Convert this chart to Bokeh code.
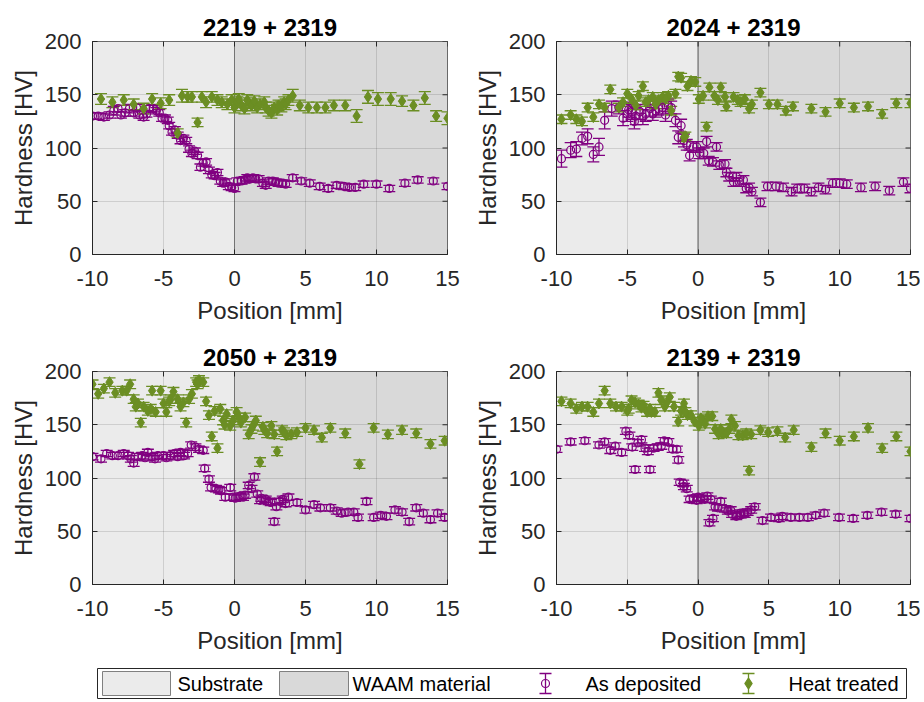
import math
from bokeh.plotting import figure
from bokeh.models import ColumnDataSource, Range1d, FixedTicker, Whisker, TeeHead
from bokeh.layouts import column, row
from bokeh.embed import file_html
from bokeh.resources import INLINE
from bokeh.core.properties import value

# ---------------- data ----------------
titles = ["2219 + 2319", "2024 + 2319", "2050 + 2319", "2139 + 2319"]
x_ticks = [-10, -5, 0, 5, 10, 15]
y_ticks = [0, 50, 100, 150, 200]
substrate_span = [-10, 0]
waam_span = [0, 15]

# Panel 1: 2219 + 2319
p1_dep_x = [-10.0, -9.6, -9.2, -8.8, -8.5, -8.2, -8.0, -7.7, -7.4, -7.1,
            -6.9, -6.7, -6.4, -6.2, -6.0, -5.7, -5.5, -5.3, -5.1, -4.9,
            -4.7, -4.6, -4.4, -4.2, -4.0, -3.8, -3.6, -3.4, -3.2, -3.0,
            -2.8, -2.6, -2.4, -2.2, -2.0, -1.8, -1.6, -1.4, -1.2, -1.0,
            -0.8, -0.6, -0.4, -0.2, 0.0, 0.2, 0.5, 0.7, 0.9, 1.1,
            1.3, 1.5, 1.7, 2.0, 2.2, 2.4, 2.7, 2.9, 3.1, 3.4,
            3.6, 4.1, 4.7, 5.3, 6.0, 6.6, 7.2, 7.7, 8.1, 8.5,
            9.1, 10.0, 10.9, 12.0, 12.9, 14.0, 15.0]
p1_dep_hv = [130, 130, 129, 131, 135, 137, 131, 133, 137, 133,
             138, 131, 129, 132, 137, 137, 135, 133, 128, 128,
             126, 121, 115, 117, 112, 107, 109, 107, 99, 95,
             97, 93, 82, 86, 87, 79, 75, 74, 77, 69,
             67, 68, 64, 63, 62, 69, 69, 70, 72, 71,
             72, 71, 71, 67, 65, 69, 69, 68, 67, 67,
             66, 72, 69, 67, 64, 62, 65, 64, 63, 63,
             66, 66, 62, 67, 70, 69, 64]
p1_dep_err = [3, 3, 3, 3, 4, 3, 3, 3, 4, 3,
              3, 3, 3, 3, 3, 3, 3, 3, 3, 3,
              3, 3, 3, 3, 3, 3, 3, 3, 3, 3,
              3, 3, 3, 3, 3, 3, 3, 3, 3, 3,
              3, 3, 3, 3, 3, 3, 3, 3, 3, 3,
              3, 3, 3, 3, 3, 3, 3, 3, 3, 3,
              3, 3, 3, 3, 3, 3, 3, 3, 3, 3,
              3, 3, 3, 3, 3, 3, 3]
p1_ht_x = [-9.4, -8.6, -7.8, -7.1, -6.4, -5.8, -5.2, -4.6, -4.0, -3.7,
           -3.3, -3.0, -2.6, -2.3, -2.0, -1.6, -1.2, -0.9, -0.5, -0.2,
           0.0, 0.2, 0.3, 0.5, 0.7, 0.9, 1.0, 1.2, 1.4, 1.6,
           1.8, 2.1, 2.2, 2.4, 2.6, 2.8, 3.0, 3.1, 3.3, 3.5,
           3.6, 3.8, 4.1, 4.6, 5.2, 5.8, 6.4, 7.0, 7.8, 8.6,
           9.4, 10.1, 11.0, 11.8, 12.6, 13.4, 14.2, 15.0]
p1_ht_hv = [146, 143, 145, 141, 137, 146, 142, 145, 114, 149,
            148, 148, 124, 148, 143, 148, 145, 143, 141, 145,
            138, 143, 146, 140, 137, 145, 142, 140, 144, 138,
            141, 143, 138, 135, 133, 138, 136, 140, 139, 143,
            141, 145, 149, 140, 138, 138, 138, 140, 140, 130,
            148, 146, 146, 144, 140, 147, 130, 128]
p1_ht_err = [5, 5, 5, 5, 5, 5, 5, 5, 4, 6,
             5, 5, 4, 5, 5, 5, 5, 5, 5, 5,
             5, 5, 5, 5, 5, 5, 5, 5, 5, 5,
             5, 5, 5, 5, 5, 5, 5, 5, 5, 5,
             5, 5, 6, 5, 5, 5, 5, 5, 5, 6,
             6, 6, 6, 5, 5, 6, 5, 6]

# Panel 2: 2024 + 2319
p2_dep_x = [-9.65, -9.0, -8.6, -8.2, -7.8, -7.4, -7.0, -6.6, -6.1, -5.6,
            -5.0, -4.7, -4.4, -4.1, -3.7, -3.4, -3.2, -2.8, -2.5, -2.1,
            -1.6, -1.4, -1.2, -1.0, -0.6, -0.35, -0.1, 0.1, 0.4, 0.6,
            0.75, 1.05, 1.3, 1.5, 1.9, 2.0, 2.2, 2.5, 2.7, 2.9,
            3.2, 3.4, 3.6, 3.8, 4.4, 4.9, 5.5, 6.0, 6.6, 7.0,
            7.5, 8.0, 8.5, 9.0, 9.5, 10.0, 10.5, 11.5, 12.5, 13.5,
            14.5, 15.0, -5.3, -4.9, -4.5, -3.9, -3.0, -2.3, -1.9, -0.8]
p2_dep_hv = [90, 98, 99, 109, 111, 94, 101, 126, 137, 138,
             132, 134, 130, 134, 132, 137, 132, 137, 138, 140,
             126, 110, 121, 107, 93, 101, 101, 95, 95, 106,
             88, 87, 101, 84, 85, 77, 73, 68, 73, 68,
             70, 62, 63, 59, 49, 64, 64, 63, 59, 62,
             62, 59, 63, 61, 67, 67, 66, 63, 64, 60,
             68, 62, 128, 136, 125, 129, 135, 131, 138, 103]
p2_dep_err = [8, 7, 7, 6, 7, 7, 8, 8, 7, 6,
              7, 7, 8, 7, 7, 7, 6, 6, 6, 6,
              6, 6, 6, 6, 5, 5, 5, 5, 5, 5,
              4, 4, 4, 4, 4, 4, 4, 4, 4, 4,
              4, 4, 4, 4, 4, 4, 4, 4, 4, 4,
              4, 4, 4, 4, 4, 4, 4, 4, 4, 4,
              4, 4, 7, 7, 7, 7, 6, 6, 6, 5]
p2_ht_x = [-9.65, -9.0, -8.6, -8.2, -7.8, -7.4, -7.0, -6.6, -6.2, -5.6,
           -5.0, -4.7, -4.2, -3.9, -3.5, -3.2, -2.8, -2.5, -2.1, -1.9,
           -1.6, -1.4, -1.2, -1.0, -0.75, -0.5, -0.2, 0.05, 0.35, 0.6,
           0.8, 1.15, 1.6, 1.9, 2.0, 2.5, 2.8, 3.3, 3.6, 3.8,
           4.4, 5.0, 5.6, 6.2, 6.7, 8.0, 9.0, 10.0, 11.0, 12.0,
           13.0, 14.0, 15.0, -5.3, -4.4, -3.7, -3.0, -2.3, -0.9, 1.4,
           3.0]
p2_ht_hv = [127, 131, 127, 125, 138, 129, 141, 138, 155, 138,
            151, 146, 149, 158, 145, 148, 145, 148, 149, 135,
            151, 167, 166, 110, 158, 163, 162, 146, 149, 120,
            157, 149, 157, 148, 139, 148, 145, 146, 137, 141,
            152, 141, 141, 135, 139, 137, 134, 142, 138, 139,
            132, 142, 142, 143, 140, 143, 141, 146, 111, 145,
            143]
p2_ht_err = [4, 4, 4, 4, 4, 4, 4, 4, 4, 4,
             4, 4, 4, 4, 4, 4, 4, 4, 4, 4,
             4, 4, 4, 4, 4, 4, 4, 4, 4, 4,
             4, 4, 4, 4, 4, 4, 4, 4, 4, 4,
             4, 4, 4, 4, 4, 4, 4, 4, 4, 4,
             4, 4, 4, 4, 4, 4, 4, 4, 4, 4,
             4]

# Panel 3: 2050 + 2319
p3_dep_x = [-10.0, -9.4, -9.0, -8.6, -8.2, -7.8, -7.5, -7.3, -7.1, -6.8,
            -6.5, -6.1, -5.8, -5.4, -5.0, -4.5, -4.25, -4.0, -3.8, -3.55,
            -3.3, -3.05, -2.75, -2.5, -2.2, -2.1, -1.8, -1.65, -1.3, -0.95,
            -0.65, -0.3, 0.05, 0.4, 0.75, 1.0, 1.2, 1.4, 1.6, 1.8,
            2.2, 2.55, 2.8, 2.95, 3.2, 3.6, 3.8, 4.4, 5.0, 5.6,
            6.05, 6.75, 7.2, 7.55, 8.0, 8.4, 8.7, 9.3, 9.8, 10.3,
            10.7, 11.3, 11.8, 12.3, 12.8, 13.3, 13.8, 14.3, 14.8, -6.3,
            -5.6, -4.8, -1.1, -0.1, 0.6, 1.9, 2.4, 3.4]
p3_dep_hv = [120, 118, 123, 121, 121, 123, 121, 118, 114, 120,
             121, 124, 120, 121, 121, 121, 123, 120, 124, 121,
             123, 131, 129, 127, 126, 109, 99, 91, 90, 88,
             82, 91, 81, 83, 84, 93, 90, 101, 85, 79,
             80, 77, 59, 73, 78, 76, 82, 77, 70, 75,
             72, 72, 69, 67, 68, 68, 63, 78, 63, 65,
             64, 70, 68, 59, 72, 67, 61, 67, 63, 119,
             118, 119, 89, 82, 82, 81, 78, 80]
p3_dep_err = [3, 3, 3, 3, 3, 3, 3, 3, 3, 3,
              3, 3, 3, 3, 3, 3, 3, 3, 3, 3,
              3, 3, 3, 3, 3, 3, 3, 3, 3, 3,
              3, 3, 3, 3, 3, 3, 3, 3, 3, 3,
              3, 3, 3, 3, 3, 3, 3, 3, 3, 3,
              3, 3, 3, 3, 3, 3, 3, 3, 3, 3,
              3, 3, 3, 3, 3, 3, 3, 3, 3, 3,
              3, 3, 3, 3, 3, 3, 3, 3]
p3_ht_x = [-10.0, -9.6, -9.2, -8.8, -8.4, -7.9, -7.6, -7.35, -7.1, -6.95,
           -6.6, -6.4, -6.1, -5.8, -5.55, -5.2, -5.0, -4.8, -4.5, -4.3,
           -4.0, -3.8, -3.4, -3.2, -3.0, -2.7, -2.5, -2.2, -2.0, -1.8,
           -1.6, -1.4, -1.2, -1.0, -0.8, -0.55, -0.3, -0.1, 0.15, 0.45,
           0.75, 1.0, 1.3, 1.5, 1.8, 2.1, 2.3, 2.6, 2.8, 3.0,
           3.35, 3.65, 4.0, 4.4, 5.0, 5.6, 6.15, 6.75, 7.8, 8.8,
           9.8, 10.8, 11.8, 12.8, 13.8, 14.8, -6.8, -5.9, -4.6, -3.6,
           -2.6, -0.7, 0.3, 1.2, 2.0, 3.5]
p3_ht_hv = [188, 179, 184, 190, 180, 182, 182, 188, 174, 167,
            152, 167, 163, 182, 162, 182, 170, 162, 174, 181,
            174, 167, 152, 174, 179, 190, 192, 190, 172, 159,
            139, 163, 128, 165, 154, 160, 149, 154, 162, 152,
            157, 141, 149, 154, 115, 145, 142, 149, 141, 125,
            145, 140, 141, 143, 147, 145, 138, 147, 142, 113,
            147, 141, 145, 142, 132, 135, 170, 165, 172, 171,
            188, 150, 157, 146, 148, 143]
p3_ht_err = [4, 4, 4, 4, 4, 4, 4, 4, 4, 4,
             4, 4, 4, 4, 4, 4, 4, 4, 4, 4,
             4, 4, 4, 4, 4, 4, 4, 4, 4, 4,
             4, 4, 4, 4, 4, 4, 4, 4, 4, 4,
             4, 4, 4, 4, 4, 4, 4, 4, 4, 4,
             4, 4, 4, 4, 4, 4, 4, 4, 4, 4,
             4, 4, 4, 4, 4, 4, 4, 4, 4, 4,
             4, 4, 4, 4, 4, 4]

# Panel 4: 2139 + 2319
p4_dep_x = [-10.0, -9.0, -8.0, -7.0, -6.6, -6.2, -5.85, -5.4, -5.1, -4.85,
            -4.65, -4.45, -4.25, -4.0, -3.75, -3.55, -3.4, -3.15, -2.85, -2.6,
            -2.4, -2.1, -1.8, -1.5, -1.4, -1.3, -1.05, -0.8, -0.6, -0.35,
            -0.1, 0.2, 0.45, 0.65, 0.8, 1.05, 1.2, 1.6, 1.9, 2.1,
            2.4, 2.7, 3.0, 3.3, 3.5, 3.75, 4.0, 4.55, 5.15, 5.7,
            5.95, 6.55, 7.15, 7.75, 8.3, 8.9, 9.95, 10.95, 11.95, 12.95,
            13.95, 15.0, -1.0, 0.0, 0.9, 1.4, 2.3, 2.8, 3.2]
p4_dep_hv = [127, 134, 135, 131, 134, 126, 130, 124, 144, 140,
             129, 108, 133, 136, 128, 125, 108, 128, 129, 130,
             135, 134, 127, 127, 117, 96, 95, 90, 80, 81,
             79, 81, 80, 83, 58, 62, 73, 78, 71, 69,
             66, 64, 67, 66, 68, 70, 73, 60, 63, 62,
             64, 63, 63, 63, 65, 67, 63, 62, 65, 68,
             66, 62, 92, 82, 80, 72, 70, 65, 67]
p4_dep_err = [3, 3, 3, 3, 3, 3, 3, 3, 3, 3,
              3, 3, 3, 3, 3, 3, 3, 3, 3, 3,
              3, 3, 3, 3, 3, 3, 3, 3, 3, 3,
              3, 3, 3, 3, 3, 3, 3, 3, 3, 3,
              3, 3, 3, 3, 3, 3, 3, 3, 3, 3,
              3, 3, 3, 3, 3, 3, 3, 3, 3, 3,
              3, 3, 3, 3, 3, 3, 3, 3, 3]
p4_ht_x = [-9.65, -9.0, -8.6, -8.2, -7.8, -7.4, -7.0, -6.6, -6.2, -5.8,
           -5.4, -5.0, -4.7, -4.45, -4.2, -3.85, -3.6, -3.3, -3.05, -2.8,
           -2.6, -2.35, -2.0, -1.7, -1.4, -1.2, -1.0, -0.75, -0.5, -0.25,
           0.05, 0.35, 0.7, 1.0, 1.2, 1.45, 1.75, 2.0, 2.35, 2.6,
           2.85, 3.15, 3.6, 3.75, 4.4, 4.95, 5.6, 6.15, 6.75, 8.0,
           9.0, 10.0, 11.0, 12.0, 13.0, 14.0, 15.0, -4.9, -4.0, -3.4,
           -2.2, -0.9, 0.2, 0.5, 1.6, 2.2, 3.4]
p4_ht_hv = [172, 170, 165, 167, 167, 162, 170, 182, 170, 167,
            167, 163, 173, 171, 169, 168, 162, 162, 162, 180,
            173, 167, 176, 167, 153, 163, 170, 159, 159, 153,
            149, 154, 158, 158, 146, 141, 143, 142, 155, 149,
            140, 140, 107, 141, 145, 143, 144, 138, 145, 129,
            142, 135, 139, 147, 128, 139, 125, 165, 166, 165,
            171, 162, 156, 151, 146, 146, 142]
p4_ht_err = [4, 4, 4, 4, 4, 4, 4, 4, 4, 4,
             4, 4, 4, 4, 4, 4, 4, 4, 4, 4,
             4, 4, 4, 4, 4, 4, 4, 4, 4, 4,
             4, 4, 4, 4, 4, 4, 4, 4, 4, 4,
             4, 4, 4, 4, 4, 4, 4, 4, 4, 4,
             4, 4, 4, 4, 4, 4, 4, 4, 4, 4,
             4, 4, 4, 4, 4, 4, 4]

legend_labels = ["Substrate", "WAAM material", "As deposited", "Heat treated"]

# ---------------- style ----------------
FONT = "Liberation Sans"
PURPLE = "#800080"
GREEN = "#6B8E23"
SUB_COLOR = "#EBEBEB"
WAAM_COLOR = "#D9D9D9"
EDGE = "#808080"
AX = "#262626"
BAR_W = 1.3

panels = [
    (p1_dep_x, p1_dep_hv, p1_dep_err, p1_ht_x, p1_ht_hv, p1_ht_err),
    (p2_dep_x, p2_dep_hv, p2_dep_err, p2_ht_x, p2_ht_hv, p2_ht_err),
    (p3_dep_x, p3_dep_hv, p3_dep_err, p3_ht_x, p3_ht_hv, p3_ht_err),
    (p4_dep_x, p4_dep_hv, p4_dep_err, p4_ht_x, p4_ht_hv, p4_ht_err),
]

# (width, height, left, right, top, bottom)
geoms = [
    (470, 340, 92, 23, 41, 86),
    (450, 340, 84, 10, 41, 86),
    (470, 324, 92, 23, 31, 80),
    (450, 324, 84, 10, 31, 80),
]


def add_errorbars(p, xs, ys, es, color):
    src = ColumnDataSource(dict(x=xs,
                                upper=[y + e for y, e in zip(ys, es)],
                                lower=[y - e for y, e in zip(ys, es)]))
    w = Whisker(source=src, base="x", upper="upper", lower="lower",
                dimension="height", line_color=color, line_width=BAR_W,
                upper_head=TeeHead(size=12, line_color=color, line_width=BAR_W),
                lower_head=TeeHead(size=12, line_color=color, line_width=BAR_W))
    p.add_layout(w)


def make_panel(i):
    dx, dy, de, hx, hy, he = panels[i]
    w, h, bl, br, bt, bb = geoms[i]
    p = figure(width=w, height=h, output_backend="svg", toolbar_location=None,
               x_range=Range1d(x_ticks[0], x_ticks[-1]),
               y_range=Range1d(y_ticks[0], y_ticks[-1]),
               min_border_left=bl, min_border_right=br,
               min_border_top=bt, min_border_bottom=bb,
               title=titles[i])
    p.title.text_font = FONT
    p.title.text_font_size = "24px"
    p.title.text_font_style = "bold"
    p.title.text_color = "black"
    p.title.align = "center"
    p.title.standoff = 1

    # background regions
    reg = p.quad(left=[substrate_span[0], waam_span[0]],
                 right=[substrate_span[1], waam_span[1]],
                 bottom=[y_ticks[0], y_ticks[0]], top=[y_ticks[-1], y_ticks[-1]],
                 fill_color=[SUB_COLOR, WAAM_COLOR], line_color=EDGE, line_width=1)
    reg.level = "image"

    p.grid.grid_line_color = AX
    p.grid.grid_line_alpha = 0.15
    p.xgrid.ticker = FixedTicker(ticks=x_ticks)
    p.ygrid.ticker = FixedTicker(ticks=y_ticks)

    add_errorbars(p, dx, dy, de, PURPLE)
    p.scatter(dx, dy, marker="circle", size=8, fill_color=None,
              line_color=PURPLE, line_width=1.2)
    add_errorbars(p, hx, hy, he, GREEN)
    p.scatter(hx, hy, marker="diamond", size=11, fill_color=GREEN,
              line_color=GREEN, line_width=1)

    # box ticks on the right and top edges (inside)
    p.scatter([x_ticks[-1]] * len(y_ticks), y_ticks, marker="dash", size=10,
              line_color=AX, line_width=1)
    p.scatter(x_ticks, [y_ticks[-1]] * len(x_ticks), marker="dash", size=10,
              angle=math.pi / 2, line_color=AX, line_width=1)

    p.xaxis.ticker = FixedTicker(ticks=x_ticks)
    p.yaxis.ticker = FixedTicker(ticks=y_ticks)
    p.xaxis.major_label_overrides = {t: str(t) for t in x_ticks}
    p.xaxis.axis_label = "Position [mm]"
    p.yaxis.axis_label = "Hardness [HV]"
    for ax in (p.xaxis[0], p.yaxis[0]):
        ax.axis_label_text_font = FONT
        ax.axis_label_text_font_size = "24px"
        ax.axis_label_text_font_style = "normal"
        ax.axis_label_text_color = AX
        ax.major_label_text_font = FONT
        ax.major_label_text_font_size = "22px"
        ax.major_label_text_color = AX
        ax.major_tick_in = 5
        ax.major_tick_out = 0
        ax.minor_tick_line_color = None
        ax.axis_line_color = AX
        ax.major_tick_line_color = AX
    p.xaxis.major_label_standoff = 16
    p.xaxis.axis_label_standoff = 8
    p.yaxis.major_label_standoff = 11
    p.yaxis.axis_label_standoff = 5

    p.outline_line_color = AX
    p.background_fill_color = "white"
    p.border_fill_color = "white"
    return p


figs = [make_panel(i) for i in range(4)]

# ---------------- legend strip ----------------
LW, LH = 920, 36
lg = figure(width=LW, height=LH, output_backend="svg", toolbar_location=None,
            x_range=Range1d(0, LW), y_range=Range1d(0, LH),
            min_border=0, min_border_left=0, min_border_right=0,
            min_border_top=0, min_border_bottom=0)
lg.axis.visible = False
lg.grid.visible = False
lg.outline_line_color = None
lg.border_fill_color = "white"
lg.background_fill_color = "white"

cy = 17
lg.quad(left=[97], right=[906], bottom=[2], top=[32],
        fill_color="white", line_color=AX, line_width=1)
lg.quad(left=[102, 279], right=[170, 348], bottom=[5, 5], top=[29, 29],
        fill_color=[SUB_COLOR, WAAM_COLOR], line_color=EDGE, line_width=1)
for cx, col, mk, sz, fc in ((545, PURPLE, "circle", 8, None),
                            (748, GREEN, "diamond", 11, GREEN)):
    lg.segment(x0=[cx], y0=[cy - 10], x1=[cx], y1=[cy + 10], line_color=col,
               line_width=BAR_W)
    lg.segment(x0=[cx - 6, cx - 6], y0=[cy - 10, cy + 10], x1=[cx + 6, cx + 6],
               y1=[cy - 10, cy + 10], line_color=col, line_width=BAR_W)
    lg.scatter([cx], [cy], marker=mk, size=sz, fill_color=fc, line_color=col,
               line_width=1.2)

lg.text(x=[177, 352, 585, 788], y=[cy] * 4, text=legend_labels,
        text_font=value(FONT), text_font_size="20px", text_color="black",
        text_baseline="middle", text_align="left")

layout = column(row(figs[0], figs[1]), row(figs[2], figs[3]), lg)

open("out.html", "w").write(file_html(layout, INLINE))
